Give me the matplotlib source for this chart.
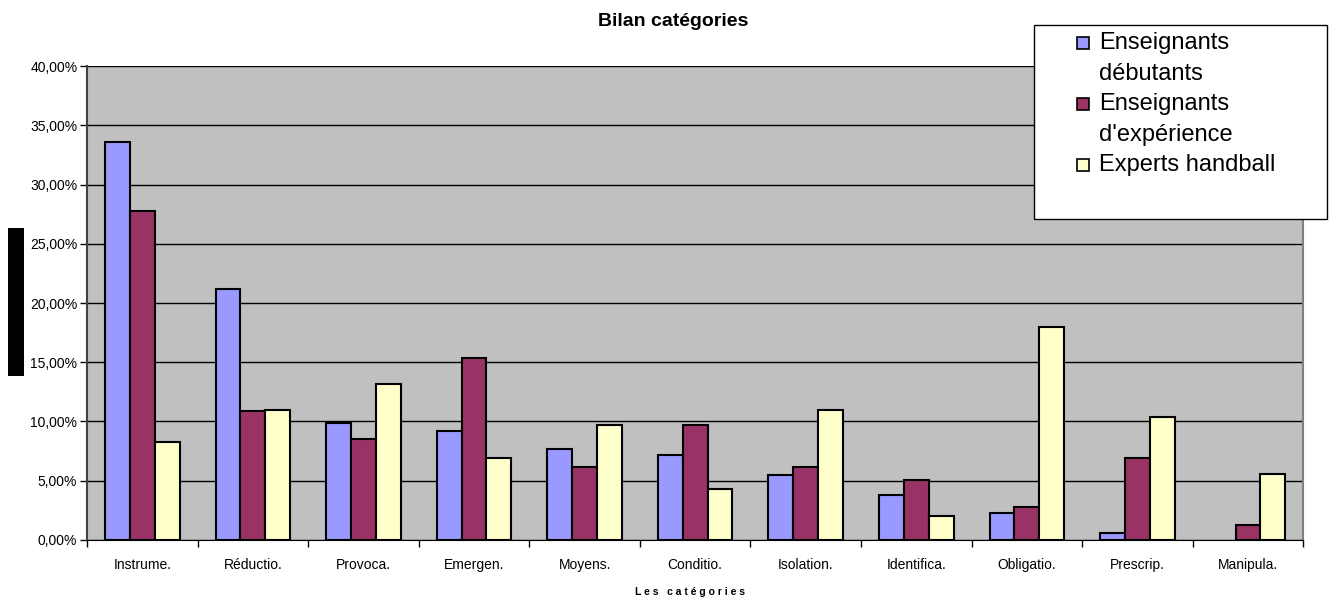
import numpy as np
import matplotlib.pyplot as plt
from matplotlib.patches import Rectangle
from matplotlib.ticker import FuncFormatter, FixedLocator

plt.rcParams['font.family'] = ['Liberation Sans', 'DejaVu Sans']

categories = ['Instrume.', 'Réductio.', 'Provoca.', 'Emergen.', 'Moyens.', 'Conditio.',
              'Isolation.', 'Identifica.', 'Obligatio.', 'Prescrip.', 'Manipula.']
debutants = [33.6, 21.2, 9.85, 9.2, 7.65, 7.15, 5.45, 3.8, 2.25, 0.55, 0.0]
experience = [27.75, 10.85, 8.55, 15.4, 6.15, 9.7, 6.15, 5.1, 2.75, 6.95, 1.25]
experts = [8.25, 11.0, 13.15, 6.9, 9.7, 4.3, 11.0, 2.05, 17.95, 10.35, 5.6]
series_names = [['Enseignants', 'débutants'], ['Enseignants', "d'expérience"], ['Experts handball']]
colors = ['#9999FF', '#993366', '#FFFFCC']

fig = plt.figure(figsize=(13.34, 6.03), dpi=100)
ax = fig.add_axes([0.0652, 0.1045, 0.9118, 0.786])
ax.set_facecolor('#C0C0C0')

x = np.arange(len(categories))
w = 0.225
for i, (vals, c) in enumerate(zip([debutants, experience, experts], colors)):
    bars = ax.bar(x + (i - 1) * w, vals, w, color=c, edgecolor='black', linewidth=1.5, zorder=3)
    for b in bars:
        if b.get_height() == 0:
            b.set_visible(False)  # empty bar: no outline in the original

ax.set_xlim(-0.5, len(categories) - 0.5)
ax.set_ylim(0, 40)
ax.set_yticks(np.arange(0, 41, 5))
ax.yaxis.set_major_formatter(FuncFormatter(lambda v, p: ('%.2f%%' % v).replace('.', ',')))
ax.yaxis.grid(True, color='black', linewidth=1)
ax.set_axisbelow(True)

ax.set_xticks(x)
ax.set_xticklabels(categories)
ax.xaxis.set_minor_locator(FixedLocator(np.arange(-0.5, len(categories), 1)))
ax.tick_params(axis='x', which='major', length=0, pad=13, labelsize=10)
ax.tick_params(axis='x', which='minor', length=5, width=1, direction='out')
ax.tick_params(axis='y', length=5, width=1, direction='out', labelsize=10, pad=2)

ax.spines['top'].set_visible(False)
ax.spines['right'].set_color('#808080')
ax.spines['right'].set_linewidth(1.5)
ax.spines['left'].set_color('#404040')
ax.spines['left'].set_linewidth(1.5)
ax.spines['bottom'].set_color('black')

fig.text(0.5045, 0.964, 'Bilan catégories', ha='center', va='center', fontsize=14, fontweight='bold')
fig.text(0.517, 0.019, 'L e s   c a t é g o r i e s', ha='center', va='center', fontsize=7.5, fontweight='bold')

# masked y label
fig.patches.append(Rectangle((8 / 1334, 1 - 376 / 603), 16 / 1334, 148 / 603,
                             transform=fig.transFigure, facecolor='black', edgecolor='none', zorder=5))

# legend box, drawn by hand so the markers sit on the first line of each entry
fig.patches.append(Rectangle((1034 / 1334, 1 - 219 / 603), 293 / 1334, 194 / 603,
                             transform=fig.transFigure, facecolor='white', edgecolor='black',
                             linewidth=1, zorder=5))
line_y = 43
for lines, c in zip(series_names, colors):
    fig.patches.append(Rectangle((1077 / 1334, 1 - (line_y + 6) / 603), 12 / 1334, 12 / 603,
                                 transform=fig.transFigure, facecolor=c, edgecolor='black',
                                 linewidth=1.2, zorder=6))
    for t in lines:
        fig.text(1099 / 1334, 1 - line_y / 603, t, ha='left', va='center', fontsize=17, zorder=6)
        line_y += 30.5

fig.savefig('out.png', dpi=100)
